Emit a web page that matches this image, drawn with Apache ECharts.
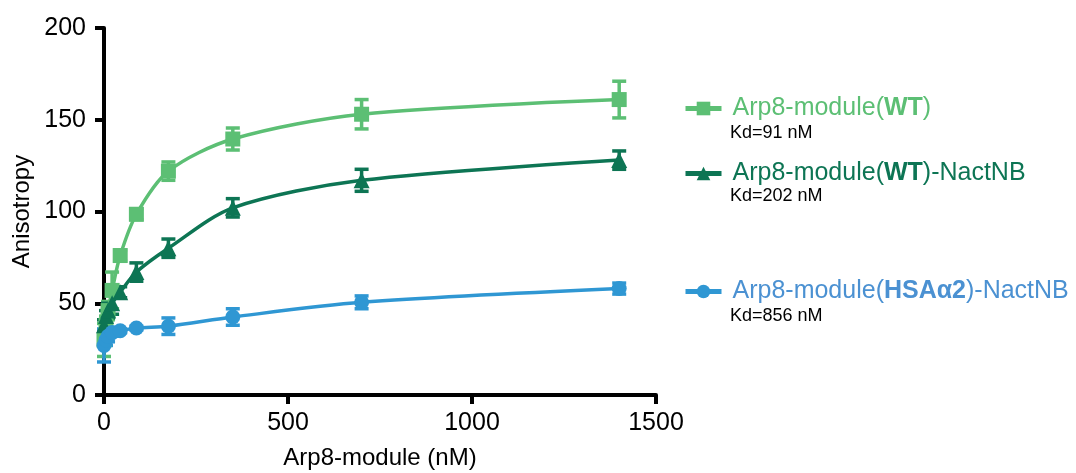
<!DOCTYPE html>
<html>
<head>
<meta charset="utf-8">
<script src="https://cdn.jsdelivr.net/npm/echarts@6/dist/echarts.min.js"></script>
<style>
  html, body { margin: 0; padding: 0; background: #fff; }
  #chart { width: 1076px; height: 473px; }
</style>
</head>
<body>
<div id="chart"></div>
<script>
// concentration (nM)
var conc = [0, 5.5, 11, 22, 44, 88, 175, 350, 700, 1400];

// anisotropy means
var wtVals     = [30, 38, 46, 57, 76, 98.5, 122, 139.5, 153, 161];
var nactVals   = [38, 43, 46, 50, 56, 67, 80, 102, 117, 128];
var hsaVals    = [27, 30, 32, 34, 35, 36.5, 37.5, 42.5, 50.5, 58];

// error (+/-)
var wtErr   = [9, 5, 5, 10, 3, 3, 5, 6, 8, 10];
var nactErr = [3, 3, 4, 6, 3, 5, 5, 5, 6, 5];
var hsaErr  = [9, 3, 3, 2, 1, 1, 4.5, 4.5, 3.5, 3];

var names = ['Arp8-module(WT)', 'Arp8-module(WT)-NactNB', 'Arp8-module(HSAα2)-NactNB'];
var kdLabels = ['Kd=91 nM', 'Kd=202 nM', 'Kd=856 nM'];
var yTicks = [0, 50, 100, 150, 200];
var xTicks = [0, 500, 1000, 1500];

var cWT = '#5cbf74';
var cNact = '#0d7554';
var cHSA = '#2f97d3';
var cHSAtext = '#4b91d2';

var chart = echarts.init(document.getElementById('chart'));

function pts(vals) {
    return conc.map(function (x, i) { return [x, vals[i]]; });
}
function errPts(vals, err) {
    return conc.map(function (x, i) { return [x, vals[i] - err[i], vals[i] + err[i]]; });
}

function errBars(params, api) {
    var x = api.value(0);
    var lo = api.coord([x, api.value(1)]);
    var hi = api.coord([x, api.value(2)]);
    var w = 7;
    var st = { stroke: api.visual('color'), lineWidth: 3.5 };
    return {
        type: 'group',
        children: [
            { type: 'line', shape: { x1: lo[0], y1: lo[1], x2: hi[0], y2: hi[1] }, style: st },
            { type: 'line', shape: { x1: lo[0] - w, y1: lo[1], x2: lo[0] + w, y2: lo[1] }, style: st },
            { type: 'line', shape: { x1: hi[0] - w, y1: hi[1], x2: hi[0] + w, y2: hi[1] }, style: st }
        ]
    };
}

function lineSeries(name, vals, color, symbol, size) {
    return {
        name: name,
        type: 'line',
        data: pts(vals),
        smooth: 0.3,
        symbol: symbol,
        symbolSize: size,
        itemStyle: { color: color },
        lineStyle: { color: color, width: 3.5 },
        z: 3
    };
}
function errSeries(vals, err, color) {
    return {
        type: 'custom',
        data: errPts(vals, err),
        renderItem: errBars,
        itemStyle: { color: color },
        encode: { x: 0, y: [1, 2] },
        z: 2
    };
}

// legend text: plain + bold part
var richParts = {
    'Arp8-module(WT)': '{n|Arp8-module(}{b|WT}{n|)}',
    'Arp8-module(WT)-NactNB': '{n|Arp8-module(}{b|WT}{n|)-NactNB}',
    'Arp8-module(HSAα2)-NactNB': '{n|Arp8-module(}{b|HSAα2}{n|)-NactNB}'
};

function legendFor(name, top, color) {
    return {
        data: [name],
        left: 683,
        top: top,
        orient: 'vertical',
        padding: 0,
        itemWidth: 36,
        itemHeight: 17,
        selectedMode: false,
        lineStyle: { width: 5 },
        formatter: function (n) { return richParts[n]; },
        textStyle: {
            padding: [0, 0, 0, 6],
            rich: {
                n: { fontSize: 25, color: color, fontFamily: 'Liberation Sans', lineHeight: 28 },
                b: { fontSize: 25, color: color, fontWeight: 'bold', fontFamily: 'Liberation Sans', lineHeight: 28 }
            }
        }
    };
}

var axisFont = { fontFamily: 'Liberation Sans', fontSize: 25, color: '#000' };

var option = {
    animation: false,
    grid: { left: 104, right: 420, top: 28, bottom: 78, outerBoundsMode: 'none' },
    xAxis: {
        type: 'value',
        min: xTicks[0],
        max: xTicks[xTicks.length - 1],
        interval: 500,
        name: 'Arp8-module (nM)',
        nameLocation: 'middle',
        nameGap: 51,
        nameTextStyle: { fontFamily: 'Liberation Sans', fontSize: 24, color: '#000' },
        axisLine: { show: true, lineStyle: { color: '#000', width: 4 } },
        axisTick: { show: true, length: 9, lineStyle: { color: '#000', width: 4 } },
        axisLabel: Object.assign({ margin: 16, formatter: function (v) { return String(v); } }, axisFont),
        splitLine: { show: false }
    },
    yAxis: {
        type: 'value',
        min: yTicks[0],
        max: yTicks[yTicks.length - 1],
        interval: 50,
        name: 'Anisotropy',
        nameLocation: 'middle',
        nameGap: 70,
        nameMoveOverlap: false,
        nameTextStyle: { fontFamily: 'Liberation Sans', fontSize: 24, color: '#000' },
        axisLine: { show: true, lineStyle: { color: '#000', width: 4 } },
        axisTick: { show: true, length: 9, lineStyle: { color: '#000', width: 4 } },
        axisLabel: Object.assign({ margin: 18 }, axisFont),
        splitLine: { show: false }
    },
    legend: [
        legendFor(names[0], 96, cWT),
        legendFor(names[1], 161, cNact),
        legendFor(names[2], 279, cHSAtext)
    ],
    graphic: kdLabels.map(function (t, i) {
        return {
            type: 'text',
            left: 730,
            top: [124, 187, 307][i],
            style: { text: t, fontSize: 18, fontFamily: 'Liberation Sans', fill: '#000' }
        };
    }),
    series: [
        errSeries(wtVals, wtErr, cWT),
        lineSeries(names[0], wtVals, cWT, 'rect', 15),
        errSeries(nactVals, nactErr, cNact),
        lineSeries(names[1], nactVals, cNact, 'triangle', 16),
        errSeries(hsaVals, hsaErr, cHSA),
        lineSeries(names[2], hsaVals, cHSA, 'circle', 15)
    ]
};

chart.setOption(option);
</script>
</body>
</html>
